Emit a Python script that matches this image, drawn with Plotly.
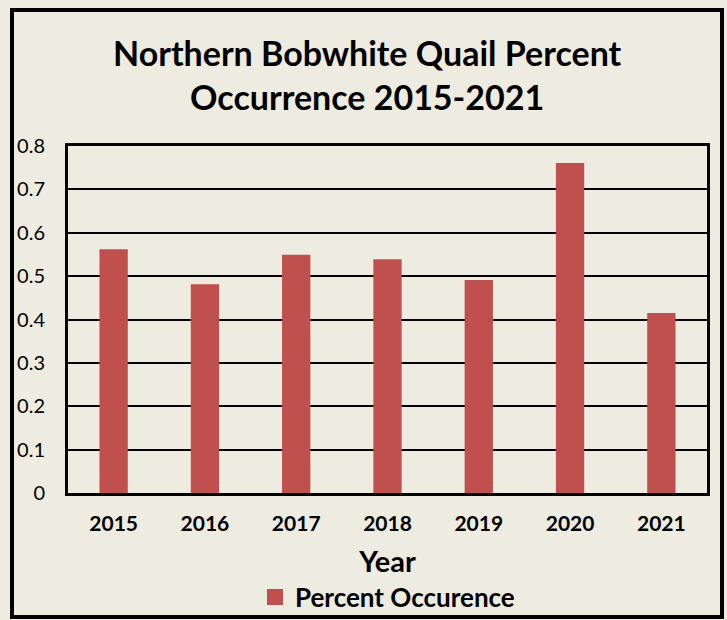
import plotly.graph_objects as go

years = ["2015", "2016", "2017", "2018", "2019", "2020", "2021"]
occurrence = [0.562, 0.481, 0.549, 0.539, 0.491, 0.761, 0.415]
y_ticks = [0, 0.1, 0.2, 0.3, 0.4, 0.5, 0.6, 0.7, 0.8]
y_tick_text = ["0", "0.1", "0.2", "0.3", "0.4", "0.5", "0.6", "0.7", "0.8"]
series_name = "Percent Occurence"

W, H = 727, 620
L, R, T, B = 68, 20, 146, 127
pw, ph = W - L - R, H - T - B

def px(x):
    return (x - L) / pw

def py(y):
    return (H - B - y) / ph

bg = "#EEEBE1"
bar_color = "#C0504D"
font = "Lato"

fig = go.Figure()
fig.add_trace(go.Bar(
    x=years, y=occurrence, name=series_name,
    marker=dict(color=bar_color, line=dict(width=0)),
    showlegend=False,
))
fig.add_trace(go.Scatter(
    x=[None], y=[None], mode="markers", name="<b>" + series_name + "</b>",
    marker=dict(symbol="square", size=17, color=bar_color),
    showlegend=True,
))

fig.update_layout(
    width=W, height=H,
    margin=dict(l=L, r=R, t=T, b=B, autoexpand=False),
    paper_bgcolor=bg, plot_bgcolor=bg,
    bargap=0.69,
    font=dict(family=font, color="black"),
    title=dict(
        text="<b>Northern Bobwhite Quail Percent<br>Occurrence 2015-2021</b>",
        x=0.505, xref="container", xanchor="center",
        y=1 - 66 / H, yanchor="middle",
        font=dict(size=34, family=font, color="black"),
    ),
    showlegend=True,
    legend=dict(
        orientation="h", x=0.5, xanchor="center", y=py(597), yanchor="middle",
        font=dict(size=26, family=font, color="black"),
        bgcolor="rgba(0,0,0,0)", itemsizing="trace", itemwidth=30,
    ),
    xaxis=dict(
        showline=True, linecolor="black", linewidth=3, mirror=True,
        ticks="", tickfont=dict(size=21, family=font, color="black"),
        title=dict(text="<b>Year</b>", font=dict(size=29, family=font, color="black"), standoff=18),
        tickprefix="<b>", ticksuffix="</b>",
        ticklabelstandoff=10,
    ),
    yaxis=dict(
        range=[0, 0.8], tickvals=y_ticks, ticktext=y_tick_text,
        showline=True, linecolor="black", linewidth=3, mirror=True,
        showgrid=True, gridcolor="black", gridwidth=2,
        zeroline=False,
        ticks="", tickfont=dict(size=20, family=font, color="black"),
        ticklabelstandoff=16,
    ),
    shapes=[dict(
        type="rect", xref="paper", yref="paper",
        x0=px(12), x1=px(722), y0=py(617), y1=py(10),
        line=dict(color="black", width=4), fillcolor="rgba(0,0,0,0)", layer="below",
    )],
)

fig.write_html(
    "out.html",
    config={"displayModeBar": False},
    post_script="document.body.style.margin='0';document.body.style.background='" + bg + "';",
)
